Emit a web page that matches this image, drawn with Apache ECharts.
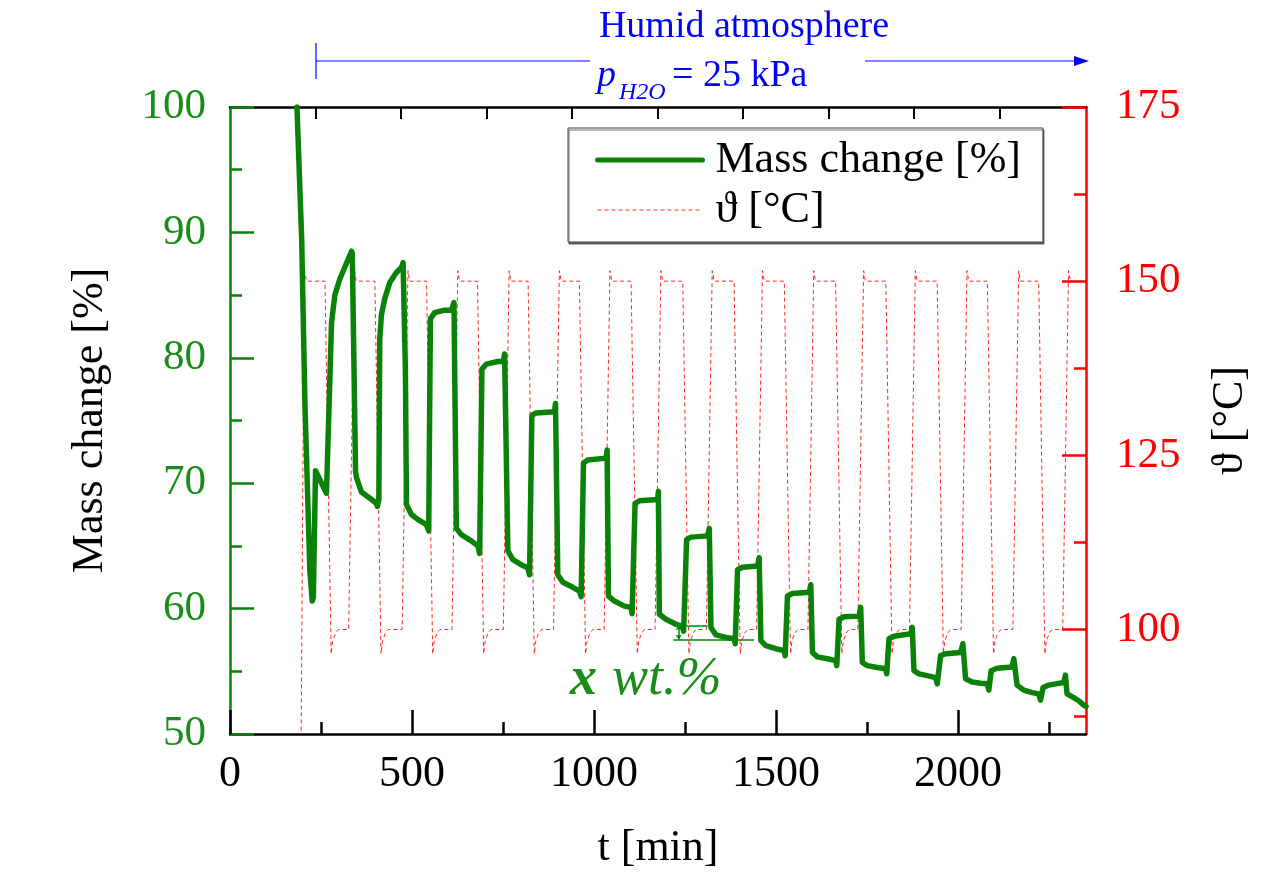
<!DOCTYPE html>
<html>
<head>
<meta charset="utf-8">
<script src="https://cdn.jsdelivr.net/npm/echarts@6/dist/echarts.min.js"></script>
<style>
html,body{margin:0;padding:0;background:#fff;}
#chart{width:1261px;height:875px;}
</style>
</head>
<body>
<div id="chart"></div>
<script>
// ---- data ----
const xTickLabels = [0, 500, 1000, 1500, 2000];
const xMinorTicks = [250, 750, 1250, 1750, 2250];
const topTicks = [235, 470, 705, 940, 1175, 1410, 1645, 1880, 2115];
const tempTickLabels = [100, 125, 150, 175];
const tempMinorTicks = [87.5, 112.5, 137.5, 162.5];

// Mass change [%] vs t [min]
const massChange = [
  [184,100],[197,89.4],[206,76.2],[219.5,63],[226,60.6],[229,60.9],[235,71.0],[250,70.1],[265,69.2],[268,69.1],
  [270,69.3],[279,82.8],[288,85.0],[302,86.3],[315,87.2],[334,88.5],[336,88.3],[345,70.9],[348,70.4],[361,69.3],
  [389,68.7],[402,68.4],[405,68.15],[409,68.7],[411.5,81.5],[416,83.4],[425,84.7],[439,86.0],[457,86.8],[471,87.2],
  [475.6,87.6],[482,78.9],[484.8,68.3],[498.5,67.5],[516.6,67.1],[539.6,66.7],[546,66.2],
  [550.6,83.1],[562.4,83.6],[589.8,83.8],[608.2,83.8],[615.4,84.4],
  [622,66.4],[635.7,65.9],[663,65.4],[681.2,65.0],[685.9,64.4],
  [692.2,79.1],[704.3,79.5],[736,79.7],[751,79.7],[754.5,80.3],
  [763.5,64.6],[777.2,63.9],[800,63.5],[818.4,63.25],[823,62.7],
  [829.4,75.4],[841.4,75.6],[891.6,75.7],[894.4,76.35],
  [900.7,62.7],[914.4,62.1],[941.8,61.7],[960.2,61.4],[964.9,60.95],
  [971.2,71.6],[983,71.85],[1033.5,72.0],[1036.2,72.65],
  [1039.8,61.0],[1056.2,60.6],[1083.7,60.2],[1102,60.1],[1104.8,59.6],
  [1113,68.4],[1124.8,68.6],[1175,68.7],[1177,69.35],
  [1179.7,59.55],[1198,59.15],[1225.5,58.75],[1243.6,58.6],[1246.4,58.2],
  [1254.6,65.5],[1266.7,65.7],[1312.2,65.8],[1316.9,66.4],
  [1321.5,58.5],[1335.3,57.9],[1362.7,57.7],[1385.5,57.6],[1388.2,57.2],
  [1394.5,63.1],[1408.2,63.3],[1449.4,63.4],[1454,64.05],
  [1458.7,57.45],[1472.4,57.05],[1499.9,56.8],[1522.6,56.65],[1525.4,56.25],
  [1531.7,61.0],[1545.4,61.2],[1591.2,61.3],[1595.9,61.9],
  [1600.3,56.5],[1614,56.15],[1641.4,56.0],[1664.5,55.85],[1667.2,55.45],
  [1673.5,59.15],[1687.2,59.35],[1728.4,59.4],[1733,60.1],
  [1737.4,55.7],[1751.2,55.45],[1778.6,55.3],[1801.6,55.2],[1804.4,54.8],
  [1810.7,57.6],[1824.4,57.8],[1870.2,58.0],[1874.6,58.5],
  [1879.3,55.05],[1893,54.8],[1915.8,54.65],[1938.8,54.5],[1943.3,54.0],
  [1952.5,56.25],[1966.2,56.4],[2007.4,56.5],[2013.7,57.2],
  [2021.1,54.4],[2039.2,54.15],[2062.3,54.05],[2080.4,54.0],[2085,53.5],
  [2091.4,55.05],[2107.8,55.25],[2149,55.35],[2153.6,56.0],
  [2162.7,53.9],[2181,53.5],[2203.8,53.3],[2222.2,53.2],[2226.9,52.7],
  [2234,53.7],[2249.7,53.9],[2290.8,54.1],[2295.5,54.7],
  [2299.9,53.2],[2318.2,52.9],[2332,52.65],[2345.7,52.3],[2352,52.2]
];

// Temperature [°C] vs t [min]
const temperature = [
  [0,25],[188,25],[204,151.8],[210,150],[261,150],[278,96.5],[282,98.3],[290,99.5],[298,100],
  [326,100],[342,151.5],[347,150],[398,150],[415,96.5],[419,98.3],[427,99.5],[435,100],
  [473,100],[489,151.5],[494,150],[540,150],[557,96.5],[561,98.3],[569,99.5],[577,100],
  [610,100],[626,151.5],[631,150],[680,150],[697,96.5],[701,98.3],[709,99.5],[717,100],
  [751,100],[767,151.5],[772,150],[819,150],[836,96.5],[840,98.3],[848,99.5],[856,100],
  [889,100],[905,151.5],[910,150],[960,150],[977,96.5],[981,98.3],[989,99.5],[997,100],
  [1028,100],[1044,151.5],[1049,150],[1102,150],[1119,96.5],[1123,98.3],[1131,99.5],[1139,100],
  [1168,100],[1184,151.5],[1189,150],[1244,150],[1261,96.5],[1265,98.3],[1273,99.5],[1281,100],
  [1309,100],[1325,151.5],[1330,150],[1385,150],[1402,96.5],[1406,98.3],[1414,99.5],[1422,100],
  [1447,100],[1463,151.5],[1468,150],[1523,150],[1540,96.5],[1544,98.3],[1552,99.5],[1560,100],
  [1588,100],[1604,151.5],[1609,150],[1664,150],[1681,96.5],[1685,98.3],[1693,99.5],[1701,100],
  [1725,100],[1741,151.5],[1746,150],[1802,150],[1819,96.5],[1823,98.3],[1831,99.5],[1839,100],
  [1867,100],[1883,151.5],[1888,150],[1943,150],[1960,96.5],[1964,98.3],[1972,99.5],[1980,100],
  [2009,100],[2025,151.5],[2030,150],[2081,150],[2098,96.5],[2102,98.3],[2110,99.5],[2118,100],
  [2151,100],[2167,151.5],[2172,150],[2222,150],[2239,96.5],[2243,98.3],[2251,99.5],[2259,100],
  [2288,100],[2304,151.5],[2309,150],[2352,150]
];

// "x wt.%" annotation levels (mass %) and spans (min)
const xwtUpper = {from: 1222, to: 1312, level: 58.67};
const xwtLower = {from: 1218, to: 1440, level: 57.54};
const xwtArrowT = 1233;

const T_MIN = 0, T_MAX = 2352;
const FONT = "'Liberation Serif', 'Times New Roman', serif";
const GREEN_LINE = '#0a820a';
const GREEN_TEXT = '#1a8c1a';
const RED = '#ff0000';
const BLUE = '#0000ff';
const plainNum = v => String(v);

const chart = echarts.init(document.getElementById('chart'), null, {renderer: 'canvas'});

const option = {
  backgroundColor: '#fff',
  animation: false,
  grid: {left: 230, right: 175, top: 107, bottom: 138, containLabel: false},
  legend: {
    left: 568, top: 128, orient: 'vertical',
    padding: [10, 22, 10, 27],
    itemWidth: 105, itemHeight: 14, itemGap: 6,
    borderColor: '#444', borderWidth: 1, backgroundColor: '#fff',
    shadowColor: 'rgba(0,0,0,0.55)', shadowOffsetX: 1, shadowOffsetY: 2, shadowBlur: 0,
    itemStyle: {opacity: 0},
    textStyle: {fontSize: 44, fontFamily: FONT, color: '#000', padding: [0, 0, 0, 8]},
    data: [
      {name: 'Mass change [%]', lineStyle: {width: 5, color: GREEN_LINE}, itemStyle: {opacity: 0}},
      {name: 'ϑ [°C]', lineStyle: {width: 1, color: RED, type: [4, 3], opacity: 0.8}, itemStyle: {opacity: 0}}
    ]
  },
  xAxis: [
    {
      type: 'value', min: T_MIN, max: T_MAX, position: 'bottom',
      name: 't [min]', nameLocation: 'middle', nameGap: 92,
      nameTextStyle: {fontSize: 44, fontFamily: FONT, color: '#000'},
      axisLine: {onZero: false, lineStyle: {color: '#000', width: 2.5}},
      axisTick: {inside: true, length: 24, customValues: xTickLabels, lineStyle: {color: '#000', width: 2.5}},
      axisLabel: {customValues: xTickLabels, formatter: plainNum, fontSize: 44, fontFamily: FONT, color: '#000', margin: 18},
      splitLine: {show: false}
    },
    {
      type: 'value', min: T_MIN, max: T_MAX, position: 'bottom',
      axisLine: {show: false, onZero: false},
      axisTick: {inside: true, length: 12, customValues: xMinorTicks, lineStyle: {color: '#000', width: 2.5}},
      axisLabel: {show: false},
      splitLine: {show: false}
    },
    {
      type: 'value', min: T_MIN, max: T_MAX, position: 'top',
      axisLine: {onZero: false, lineStyle: {color: '#000', width: 2.5}},
      axisTick: {inside: true, length: 12, customValues: topTicks, lineStyle: {color: '#000', width: 2}},
      axisLabel: {show: false},
      splitLine: {show: false}
    }
  ],
  yAxis: [
    {
      type: 'value', min: 50, max: 100, interval: 10, position: 'left',
      name: 'Mass change [%]', nameLocation: 'middle', nameGap: 118, nameRotate: 90,
      nameTextStyle: {fontSize: 44, fontFamily: FONT, color: '#000'},
      axisLine: {onZero: false, lineStyle: {color: GREEN_LINE, width: 2.5}},
      axisTick: {inside: true, length: 24, lineStyle: {color: GREEN_LINE, width: 2.5}},
      minorTick: {show: true, splitNumber: 2, length: 12, lineStyle: {color: GREEN_LINE, width: 2.5}},
      axisLabel: {formatter: plainNum, fontSize: 43, fontFamily: FONT, color: GREEN_TEXT, margin: 24},
      splitLine: {show: false}, minorSplitLine: {show: false}
    },
    {
      type: 'value', min: 85, max: 175, position: 'right',
      name: 'ϑ [°C]', nameLocation: 'middle', nameGap: 122, nameRotate: 90,
      nameTextStyle: {fontSize: 44, fontFamily: FONT, color: '#000'},
      axisLine: {onZero: false, lineStyle: {color: RED, width: 2.5}},
      axisTick: {inside: true, length: 24, customValues: tempTickLabels, lineStyle: {color: RED, width: 2.5}},
      axisLabel: {customValues: tempTickLabels, formatter: plainNum, fontSize: 43, fontFamily: FONT, color: RED, margin: 30},
      splitLine: {show: false}
    },
    {
      type: 'value', min: 85, max: 175, position: 'right',
      axisLine: {show: false, onZero: false},
      axisTick: {inside: true, length: 12, customValues: tempMinorTicks, lineStyle: {color: RED, width: 2.5}},
      axisLabel: {show: false},
      splitLine: {show: false}
    }
  ],
  series: [
    {
      name: 'ϑ [°C]', type: 'line', xAxisIndex: 0, yAxisIndex: 1,
      data: temperature, symbol: 'none', showSymbol: false, z: 2,
      lineStyle: {color: RED, width: 1, type: [4, 3], opacity: 0.85},
      itemStyle: {color: RED}
    },
    {
      name: 'Mass change [%]', type: 'line', xAxisIndex: 0, yAxisIndex: 0,
      data: massChange, symbol: 'none', showSymbol: false, z: 3,
      lineStyle: {color: GREEN_LINE, width: 5.5, join: 'round', cap: 'round'},
      itemStyle: {color: GREEN_LINE},
      markLine: {
        silent: true, symbol: 'none', animation: false,
        label: {show: false},
        lineStyle: {color: GREEN_LINE, width: 1.5, type: 'solid'},
        data: [
          [{coord: [xwtUpper.from, xwtUpper.level]}, {coord: [xwtUpper.to, xwtUpper.level]}],
          [{coord: [xwtLower.from, xwtLower.level]}, {coord: [xwtLower.to, xwtLower.level]}],
          [{coord: [xwtArrowT, xwtUpper.level], symbol: 'arrow', symbolSize: 5},
           {coord: [xwtArrowT, xwtLower.level], symbol: 'arrow', symbolSize: 5}]
        ]
      }
    }
  ],
  graphic: [
    {type: 'text', x: 744, y: 27, z: 10,
     style: {text: 'Humid atmosphere', font: "38px 'Liberation Serif'", fill: BLUE, align: 'center', verticalAlign: 'middle'}},
    {type: 'text', x: 597, y: 76, z: 10,
     style: {text: 'p', font: "italic 38px 'Liberation Serif'", fill: BLUE, align: 'left', verticalAlign: 'middle'}},
    {type: 'text', x: 619, y: 93, z: 10,
     style: {text: 'H2O', font: "italic 24px 'Liberation Serif'", fill: BLUE, align: 'left', verticalAlign: 'middle'}},
    {type: 'text', x: 672, y: 76, z: 10,
     style: {text: '= 25 kPa', font: "38px 'Liberation Serif'", fill: BLUE, align: 'left', verticalAlign: 'middle'}},
    {type: 'line', z: 10, shape: {x1: 316, y1: 61, x2: 590, y2: 61}, style: {stroke: BLUE, lineWidth: 1.2}},
    {type: 'line', z: 10, shape: {x1: 316, y1: 43, x2: 316, y2: 79}, style: {stroke: BLUE, lineWidth: 1.2}},
    {type: 'line', z: 10, shape: {x1: 865, y1: 61, x2: 1076, y2: 61}, style: {stroke: BLUE, lineWidth: 1.2}},
    {type: 'polygon', z: 10, shape: {points: [[1074, 56], [1089, 61], [1074, 66]]}, style: {fill: BLUE}},
    {type: 'text', x: 570, y: 680, z: 10,
     style: {text: 'x', font: "italic bold 54px 'Liberation Serif'", fill: GREEN_TEXT, align: 'left', verticalAlign: 'middle'}},
    {type: 'text', x: 612, y: 680, z: 10,
     style: {text: 'wt.%', font: "italic 54px 'Liberation Serif'", fill: GREEN_TEXT, align: 'left', verticalAlign: 'middle'}}
  ]
};

chart.setOption(option);
</script>
</body>
</html>
